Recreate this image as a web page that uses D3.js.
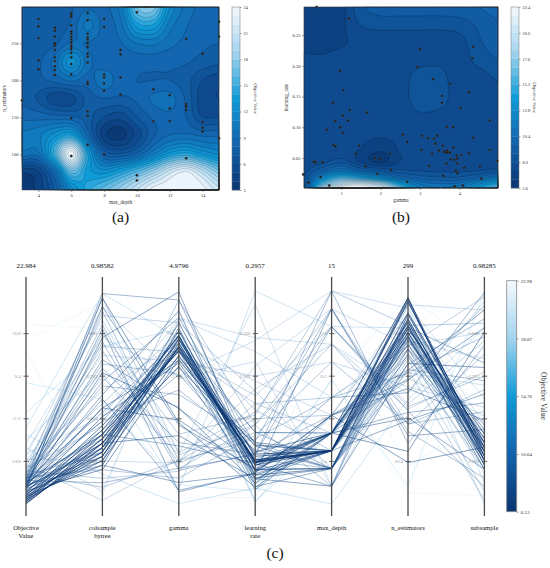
<!DOCTYPE html>
<html>
<head>
<meta charset="utf-8">
<script src="https://cdn.jsdelivr.net/npm/d3@7"></script>
<style>
  body { margin: 0; background: #fff; }
  svg { display: block; }
</style>
</head>
<body>
<div id="wrapper"></div>
<script>
// ---- trials (one entry per trial, same order in every array) ----
const objective = [6.53,6.61,6.70,6.75,6.82,6.88,6.93,6.99,7.05,7.10,7.15,7.20,7.26,7.31,7.37,7.42,7.48,7.55,7.60,7.66,7.72,7.78,7.85,7.91,7.98,8.05,8.12,8.20,8.28,8.36,8.45,8.55,
  22.98,20.4,19.2,18.3,15.9,13.6,12.4,11.9,11.5,11.2,10.9,10.6,10.4,10.2,10.0,9.85,9.7,9.55,9.4,9.3,9.2,9.1,9.0,8.95,8.9,8.85,8.8,8.75,8.7,8.65,8.6,8.55,8.5,8.45,8.4,8.35,8.3,8.25,8.2,8.15,8.1,8.05,8.0,7.95,7.9,7.85,7.8,7.75,7.7]
const colsample = [0.64,0.63,0.65,0.62,0.66,0.61,0.64,0.67,0.60,0.63,0.68,0.59,0.65,0.62,0.70,0.61,0.66,0.58,0.64,0.72,0.60,0.67,0.63,0.75,0.61,0.69,0.66,0.78,0.62,0.71,0.65,0.82,
  0.55,0.90,0.96,0.52,0.74,0.86,0.98,0.57,0.80,0.92,0.53,0.88,0.70,0.95,0.60,0.84,0.76,0.51,0.93,0.68,0.86,0.56,0.97,0.73,0.89,0.54,0.79,0.91,0.62,0.85,0.58,0.94,0.77,0.69,0.87,0.55,0.81,0.98,0.66,0.83,0.74,0.90,0.59,0.95,0.72,0.88,0.64,0.80,0.97]
const gamma = [3.61,3.70,3.65,3.76,3.58,3.69,3.85,3.93,3.48,4.05,3.78,3.87,3.95,4.24,3.31,3.67,3.95,3.39,3.21,3.36,4.12,3.44,3.23,4.52,3.91,3.95,3.59,4.36,3.69,3.84,3.04,3.05,
  0.70,2.68,0.17,4.56,0.48,4.09,3.88,0.04,0.38,1.20,4.35,3.00,4.33,2.94,0.98,3.33,3.77,1.06,4.24,3.56,3.56,0.79,1.22,4.03,1.65,1.04,1.17,0.85,4.77,0.98,0.63,1.04,2.57,2.68,0.81,0.86,1.46,4.77,1.38,2.24,0.35,0.31,0.53,1.86,1.98,4.96,1.62,2.27,1.92]
const learningRate = [0.060,0.059,0.059,0.059,0.070,0.062,0.067,0.054,0.062,0.055,0.048,0.047,0.049,0.058,0.057,0.041,0.041,0.073,0.082,0.081,0.034,0.086,0.037,0.036,0.029,0.025,0.021,0.083,0.101,0.100,0.063,0.086,
  0.005,0.011,0.010,0.016,0.019,0.005,0.004,0.023,0.2957,0.277,0.231,0.227,0.212,0.198,0.192,0.178,0.171,0.160,0.157,0.151,0.140,0.140,0.128,0.131,0.124,0.119,0.111,0.110,0.111,0.100,0.096,0.091,0.088,0.076,0.071,0.069,0.070,0.063,0.057,0.057,0.043,0.044,0.043,0.050,0.048,0.045,0.036,0.030,0.024]
const maxDepth = [6,6,6,7,6,6,6,7,6,6,7,6,5,6,7,5,6,7,6,5,7,6,5,6,7,5,7,6,5,7,5,5,
  6,10,13,10,10,7,8,3,13,4,12,15,9,4,14,11,8,12,5,13,7,9,14,6,15,8,12,4,13,7,11,9,14,5,8,15,13,7,9,4,14,8,6,7,5,8,4,8,7]
const nEstimators = [291,288,286,291,274,266,263,263,259,255,258,251,271,247,255,267,245,250,242,259,245,237,250,231,236,247,232,222,241,224,231,226,
  98,65,95,292,72,281,204,173,256,283,180,279,241,227,236,188,283,162,219,168,198,235,144,208,259,272,145,273,165,195,145,204,136,214,208,122,160,158,181,257,131,196,149,152,207,186,215,100,113]
const subsample = [0.62,0.61,0.63,0.60,0.64,0.62,0.59,0.63,0.61,0.65,0.60,0.62,0.64,0.58,0.66,0.61,0.63,0.60,0.65,0.62,0.59,0.64,0.67,0.61,0.63,0.60,0.68,0.62,0.64,0.58,0.66,0.63,
  0.93,0.52,0.70,0.85,0.98,0.55,0.77,0.90,0.50,0.74,0.96,0.68,0.83,0.57,0.89,0.72,0.94,0.80,0.53,0.87,0.70,0.97,0.76,0.51,0.91,0.66,0.84,0.60,0.79,0.95,0.71,0.88,0.56,0.92,0.78,0.86,0.54,0.73,0.98,0.82,0.67,0.90,0.75,0.58,0.94,0.69,0.81,0.63,0.89]

// ---- contour surface (a): objective over max_depth x n_estimators ----
const gridAx = [3,4,5,6,7,8,9,10,11,12,13,14,15]
const gridAy = [299,274.3,249.6,224.9,200.2,175.5,150.8,126.1,101.4,76.7,52]
const gridA = [
  [7.4,7.2,7.4,7.9,8.8,8.7,10.5,17,17.5,12,9.6,8.7,8.4],
  [7.4,7.2,7.5,8.2,10.3,8.7,9.6,13.5,13.8,10.5,9.1,8.5,8.2],
  [7.5,7.4,7.8,9.2,8.9,8.6,8.9,10,10.2,9.3,8.7,8.2,8.0],
  [7.6,7.8,9.5,12.5,9.5,8.4,8.4,8.4,8.4,8.3,8.1,7.6,7.2],
  [7.7,7.8,8.3,9.2,8.5,9.6,8.4,8.0,8.0,8.0,7.4,6.0,5.4],
  [7.8,6.8,5.4,5.6,7.4,8.0,7.8,8.2,9.2,9.4,7.8,5.4,5.0],
  [8.7,8.6,8.4,8.2,7.4,6.0,5.4,7.0,8.2,8.8,8.0,6.0,6.0],
  [10.2,10.7,12.5,14.0,8.7,4.4,3.6,5.4,7.8,9.0,9.2,8.8,8.8],
  [9.7,9.7,15.5,23.5,14.0,7.7,7.0,8.2,10.7,13.2,14.2,12.7,11.7],
  [4.2,5.0,9.2,16.5,13.5,12.5,14.0,16.0,18.5,21.5,23.0,20.5,17.5],
  [3.5,4.4,7.2,11.5,14.5,16.5,18.5,21.0,23.5,24.0,24.0,23.5,21.5]
]

// ---- contour surface (b): objective over gamma x learning_rate ----
const gridBx = [0.06,0.5,1.0,1.5,2.0,2.5,3.0,3.5,4.0,4.5,4.98]
const gridBy = [0.2957,0.27,0.24,0.21,0.18,0.15,0.12,0.09,0.065,0.045,0.03,0.018,0.008,0.001]
const gridB = [
  [6.7,6.6,6.9,8.6,9.2,9.2,9.2,9.2,9.3,9.6,10.0],
  [6.8,6.7,7.0,8.1,8.4,8.4,8.4,8.4,8.5,9.0,9.5],
  [7.0,6.9,7.1,7.4,7.5,7.5,7.5,7.5,7.7,8.7,9.2],
  [7.3,7.3,7.4,7.4,7.5,7.5,7.7,7.8,7.6,8.3,8.8],
  [7.4,7.4,7.4,7.4,7.5,7.6,8.4,8.3,7.5,7.6,8.1],
  [7.4,7.4,7.4,7.4,7.5,7.6,8.5,8.4,7.5,7.5,7.6],
  [7.4,7.4,7.4,7.4,7.5,7.5,7.9,7.8,7.5,7.5,7.5],
  [7.4,7.4,7.4,7.4,7.4,7.4,7.4,7.4,7.4,7.4,7.4],
  [7.4,7.4,7.4,7.2,6.6,7.3,7.4,7.4,7.4,7.4,7.4],
  [7.4,7.6,8.3,7.0,6.1,7.2,7.4,7.4,7.4,7.4,7.5],
  [7.6,9.4,11.0,9.6,8.6,8.1,7.9,7.8,7.8,7.9,8.3],
  [8.0,12.5,15.5,14.5,12.5,10.2,9.2,8.9,8.9,9.8,11.2],
  [8.3,15.5,19.5,20.5,18.5,14.0,11.0,10.4,10.6,12.5,14.5],
  [8.6,18.0,22.2,22.4,21.0,16.0,12.0,11.2,11.8,14.0,16.5]
]

// ---- axes / ticks ----
const ticksAx = [4,6,8,10,12,14]
const ticksAy = [100,150,200,250]
const ticksAcb = [3,6,9,12,15,18,21,24]
const ticksBx = [1,2,3,4]
const ticksBy = [0.05,0.10,0.15,0.20,0.25]
const ticksBcb = [5.6,8.0,10.4,12.8,15.2,17.6,20.0,22.4]

const dimKeys = ['objective','colsample','gamma','learningRate','maxDepth','nEstimators','subsample']
const dimTitles = [['Objective','Value'],['colsample','bytree'],['gamma'],['learning','rate'],['max_depth'],['n_estimators'],['subsample']]
const dimMin = [6.527,0.5018,0.03,0.001,3,52,0.5016]
const dimMax = [22.984,0.98582,4.9796,0.2957,15,299,0.98285]
const dimTopLabels = ['22.984','0.98582','4.9796','0.2957','15','299','0.98285']
const tickFractions = [0.2,0.4,0.6,0.8]
const ticksCcb = [6.53,10.64,14.76,18.87,22.98]

const colorStops = ['#0a3570','#1262ac','#0f9bd7','#a3d4ef','#f4f9fd']
const cmap = d3.piecewise(d3.interpolateRgb, colorStops)
const FONT = 'Liberation Serif'

const trials = objective.map((d, i) => ({
	objective: d,
	colsample: colsample[i],
	gamma: gamma[i],
	learningRate: learningRate[i],
	maxDepth: maxDepth[i],
	nEstimators: nEstimators[i],
	subsample: subsample[i],
}))

// ---- canvas ----
const svg = d3.select('#wrapper')
	.append('svg')
		.attr('width', 550)
		.attr('height', 568)
		.style('font-family', FONT)

// bicubic (catmull-rom) resampling of a grid so the contours come out smooth
const cubic = (p0, p1, p2, p3, t) =>
	p1 + 0.5 * t * (p2 - p0 + t * (2 * p0 - 5 * p1 + 4 * p2 - p3 + t * (3 * (p1 - p2) + p3 - p0)))

function upsample(grid, f) {
	const rows = grid.length, cols = grid[0].length
	const nx = (cols - 1) * f + 1, ny = (rows - 1) * f + 1
	const at = (r, c) => grid[Math.max(0, Math.min(rows - 1, r))][Math.max(0, Math.min(cols - 1, c))]
	const values = new Float64Array(nx * ny)
	for (let j = 0; j < ny; j++) {
		let r = Math.floor(j / f), ty = j / f - r
		if (r >= rows - 1) { r = rows - 2; ty = 1 }
		for (let i = 0; i < nx; i++) {
			let c = Math.floor(i / f), tx = i / f - c
			if (c >= cols - 1) { c = cols - 2; tx = 1 }
			const rv = [-1, 0, 1, 2].map(k =>
				cubic(at(r + k, c - 1), at(r + k, c), at(r + k, c + 1), at(r + k, c + 2), tx))
			values[j * nx + i] = cubic(rv[0], rv[1], rv[2], rv[3], ty)
		}
	}
	return { values, nx, ny }
}

const styleAxis = (a, size) => {
	a.attr('font-family', null)
	a.select('.domain').remove()
	a.selectAll('line').attr('stroke', '#444').attr('stroke-width', 0.5)
	a.selectAll('text').attr('font-size', size).attr('fill', '#333').style('font-family', FONT)
}

function drawContourPanel(o) {
	const f = 16
	const up = upsample(o.grid, f)
	const colAt = d3.scaleLinear().domain(d3.range(o.cols.length)).range(o.cols)
	const rowAt = d3.scaleLinear().domain(d3.range(o.rows.length)).range(o.rows)
	const cx = v => Math.max(0, Math.min(up.nx - 1, v))
	const cy = v => Math.max(0, Math.min(up.ny - 1, v))
	const proj = d3.geoTransform({
		point: function(px, py) {
			this.stream.point(o.x(colAt(cx(px - 0.5) / f)), o.y(rowAt(cy(py - 0.5) / f)))
		}
	})
	const path = d3.geoPath(proj)
	const levels = d3.range(o.lo, o.hi - o.step / 2, o.step)
	const bands = d3.contours().size([up.nx, up.ny]).thresholds(levels)(up.values)
	const bandColor = v => cmap(Math.max(0, Math.min(1, (v + o.step / 2 - o.lo) / (o.hi - o.lo))))

	const [x0, x1] = o.x.range(), [y1, y0] = o.y.range()
	const g = svg.append('g')
	g.append('rect')
		.attr('x', x0).attr('y', y0)
		.attr('width', x1 - x0).attr('height', y1 - y0)
		.attr('fill', bandColor(o.lo))
	g.selectAll('.band').data(bands).join('path')
		.attr('d', path)
		.attr('fill', d => bandColor(d.value))
	g.selectAll('.iso').data(bands.slice(1)).join('path')
		.attr('d', path)
		.attr('fill', 'none')
		.attr('stroke', '#000')
		.attr('stroke-opacity', 0.4)
		.attr('stroke-width', 0.45)

	// trial points
	g.selectAll('circle').data(trials).join('circle')
		.attr('cx', d => o.x(d[o.xKey]))
		.attr('cy', d => o.y(d[o.yKey]))
		.attr('r', 1.2)
		.attr('fill', '#1a1a1a')
		.attr('stroke', '#555')
		.attr('stroke-width', 0.3)

	// spines
	g.append('rect')
		.attr('x', x0).attr('y', y0)
		.attr('width', x1 - x0).attr('height', y1 - y0)
		.attr('fill', 'none').attr('stroke', '#444').attr('stroke-width', 0.5)

	const xAxis = svg.append('g')
		.attr('transform', `translate(0, ${y1})`)
		.call(d3.axisBottom(o.x).tickValues(o.xTicks).tickSize(2).tickPadding(1.5).tickFormat(o.xFormat))
	const yAxis = svg.append('g')
		.attr('transform', `translate(${x0}, 0)`)
		.call(d3.axisLeft(o.y).tickValues(o.yTicks).tickSize(2).tickPadding(1.5).tickFormat(o.yFormat))
	styleAxis(xAxis, 4.6)
	styleAxis(yAxis, 4.6)

	svg.append('text')
		.attr('x', (x0 + x1) / 2).attr('y', y1 + 14)
		.attr('text-anchor', 'middle').attr('font-size', 5.2).attr('fill', '#333')
		.text(o.xTitle)
	svg.append('text')
		.attr('transform', `translate(${o.yTitleX}, ${(y0 + y1) / 2}) rotate(-90)`)
		.attr('text-anchor', 'middle').attr('font-size', 5.2).attr('fill', '#333')
		.text(o.yTitle)

	// colour bar (stepped, one rect per contour band)
	const cb = d3.scaleLinear().domain([o.lo, o.hi]).range([y1, y0])
	const cbg = svg.append('g')
	cbg.selectAll('rect').data(levels).join('rect')
		.attr('x', o.cbX).attr('width', 8)
		.attr('y', d => cb(d + o.step))
		.attr('height', d => cb(d) - cb(d + o.step) + 0.3)
		.attr('fill', d => bandColor(d))
	cbg.append('rect')
		.attr('x', o.cbX).attr('y', y0).attr('width', 8).attr('height', y1 - y0)
		.attr('fill', 'none').attr('stroke', '#777').attr('stroke-width', 0.5)
	const cbAxis = cbg.append('g')
		.attr('transform', `translate(${o.cbX + 8}, 0)`)
		.call(d3.axisRight(cb).tickValues(o.cbTicks).tickSize(1.5).tickPadding(2).tickFormat(o.cbFormat))
	styleAxis(cbAxis, 4.4)
	cbg.append('text')
		.attr('transform', `translate(${o.cbX + 22}, ${(y0 + y1) / 2}) rotate(90)`)
		.attr('text-anchor', 'middle').attr('font-size', 4.8).attr('fill', '#333')
		.text('Objective Value')

	svg.append('text')
		.attr('x', (x0 + x1) / 2).attr('y', 222)
		.attr('text-anchor', 'middle').attr('font-size', 15.5).attr('fill', '#111')
		.text(o.panel)
}

// ---- (a) ----
drawContourPanel({
	grid: gridA, cols: gridAx, rows: gridAy,
	x: d3.scaleLinear().domain([3, 15]).range([22, 219]),
	y: d3.scaleLinear().domain([52, 299]).range([190, 7]),
	lo: 3, hi: 24, step: 1,
	xKey: 'maxDepth', yKey: 'nEstimators',
	xTicks: ticksAx, yTicks: ticksAy, xFormat: d3.format('d'), yFormat: d3.format('d'),
	xTitle: 'max_depth', yTitle: 'n_estimators', yTitleX: 6,
	cbX: 232, cbTicks: ticksAcb, cbFormat: d3.format('d'),
	panel: '(a)',
})

// ---- (b) ----
drawContourPanel({
	grid: gridB, cols: gridBx, rows: gridBy,
	x: d3.scaleLinear().domain([0.06, 4.98]).range([304, 498]),
	y: d3.scaleLinear().domain([0.001, 0.2957]).range([188, 7]),
	lo: 5.6, hi: 22.4, step: 0.8,
	xKey: 'gamma', yKey: 'learningRate',
	xTicks: ticksBx, yTicks: ticksBy, xFormat: d3.format('d'), yFormat: d3.format('.2f'),
	xTitle: 'gamma', yTitle: 'learning_rate', yTitleX: 287.5,
	cbX: 511, cbTicks: ticksBcb, cbFormat: d3.format('.1f'),
	panel: '(b)',
})

// ---- (c) parallel coordinates ----
const xPC = d3.scalePoint().domain(dimKeys).range([26, 484.4])
const yPC = {}
dimKeys.forEach((k, i) => {
	yPC[k] = d3.scaleLinear().domain([dimMin[i], dimMax[i]]).range([504, 291])
})
const pc = svg.append('g')

dimKeys.forEach((k, i) => {
	const ax = xPC(k)
	tickFractions.forEach(f => {
		const v = dimMin[i] + f * (dimMax[i] - dimMin[i])
		pc.append('line')
			.attr('x1', ax - 2.5).attr('x2', ax + 2.8)
			.attr('y1', yPC[k](v)).attr('y2', yPC[k](v))
			.attr('stroke', '#444').attr('stroke-width', 0.8)
		pc.append('text')
			.attr('x', ax - 5).attr('y', yPC[k](v) + 1.3)
			.attr('text-anchor', 'end').attr('font-size', 3.9).attr('fill', '#9a9a9a')
			.text(d3.format('.4~')(v))
	})
})

const lineGenerator = d3.line()
	.x(d => xPC(d.key))
	.y(d => yPC[d.key](d.value))

const sortedTrials = trials.slice().sort((a, b) => b.objective - a.objective)
const norm = v => (v - ticksCcb[0]) / (ticksCcb[ticksCcb.length - 1] - ticksCcb[0])
const lineOpacity = d3.scaleLinear().domain([6.53, 8.6, 10]).range([0.85, 0.34, 0.22]).clamp(true)
pc.selectAll('.trial').data(sortedTrials).join('path')
	.attr('d', t => lineGenerator(dimKeys.map(k => ({ key: k, value: t[k] }))))
	.attr('fill', 'none')
	.attr('stroke', t => cmap(Math.max(0, Math.min(1, norm(t.objective)))))
	.attr('stroke-width', 0.9)
	.attr('stroke-opacity', t => lineOpacity(t.objective))

dimKeys.forEach((k, i) => {
	const ax = xPC(k)
	pc.append('line')
		.attr('x1', ax).attr('x2', ax)
		.attr('y1', 277).attr('y2', 516)
		.attr('stroke', '#4a4a4a').attr('stroke-width', 1.3)
	pc.append('text')
		.attr('x', ax).attr('y', 267.5)
		.attr('text-anchor', 'middle').attr('font-size', 7).attr('fill', '#111')
		.text(dimTopLabels[i])
	dimTitles[i].forEach((line, j) => {
		pc.append('text')
			.attr('x', ax).attr('y', 530 + j * 7.5)
			.attr('text-anchor', 'middle').attr('font-size', 6.6).attr('fill', '#111')
			.text(line)
	})
})

// colour bar for (c)
const defs = svg.append('defs')
const grad = defs.append('linearGradient')
	.attr('id', 'cbc').attr('x1', 0).attr('x2', 0).attr('y1', 1).attr('y2', 0)
d3.range(0, 1.0001, 0.05).forEach(t => {
	grad.append('stop').attr('offset', t).attr('stop-color', cmap(t))
})
const cbC = d3.scaleLinear().domain([ticksCcb[0], ticksCcb[ticksCcb.length - 1]]).range([511.7, 280.7])
svg.append('rect')
	.attr('x', 506.7).attr('y', 280.7).attr('width', 10).attr('height', 231)
	.attr('fill', 'url(#cbc)').attr('stroke', '#888').attr('stroke-width', 0.8)
const cbCAxis = svg.append('g')
	.attr('transform', 'translate(516.7, 0)')
	.call(d3.axisRight(cbC).tickValues(ticksCcb).tickSize(2).tickPadding(2).tickFormat(d3.format('.2f')))
styleAxis(cbCAxis, 5)
svg.append('text')
	.attr('transform', 'translate(541, 396) rotate(90)')
	.attr('text-anchor', 'middle').attr('font-size', 7.5).attr('fill', '#333')
	.text('Objective Value')

svg.append('text')
	.attr('x', 275).attr('y', 558)
	.attr('text-anchor', 'middle').attr('font-size', 15.5).attr('fill', '#111')
	.text('(c)')
</script>
</body>
</html>
